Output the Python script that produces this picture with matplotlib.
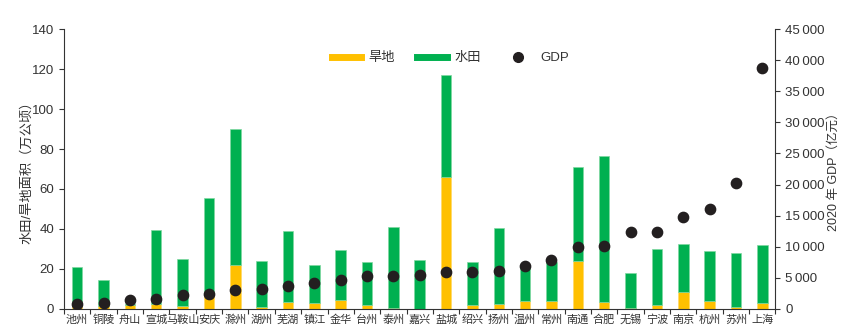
import matplotlib.pyplot as plt
import numpy as np
from matplotlib.lines import Line2D
from matplotlib.ticker import FuncFormatter, MultipleLocator

plt.rcParams['font.family'] = ['Liberation Sans', 'Noto Sans CJK SC', 'DejaVu Sans']

# 城市
cities = ['池州', '铜陵', '舟山', '宣城', '马鞍山', '安庆', '滁州', '湖州', '芜湖',
          '镇江', '金华', '台州', '泰州', '嘉兴', '盐城', '绍兴', '扬州', '温州',
          '常州', '南通', '合肥', '无锡', '宁波', '南京', '杭州', '苏州', '上海']
# 旱地 (万公顷)
dry = [1.5, 1.5, 2.0, 2.5, 1.7, 8.3, 21.8, 1.2, 3.7,
       2.8, 4.5, 2.0, 0.5, 0.2, 66.0, 2.0, 2.5, 4.2,
       4.0, 24.2, 3.7, 0.7, 2.2, 8.5, 4.0, 1.2, 3.2]
# 水田+旱地 总高度 (万公顷)
total = [21.0, 14.7, 2.3, 39.5, 24.8, 55.3, 90.0, 23.8, 39.0,
         22.0, 29.3, 23.5, 40.8, 24.7, 117.2, 23.5, 40.5, 20.3,
         23.7, 70.8, 76.3, 18.2, 29.8, 32.7, 28.8, 28.2, 32.0]
paddy = [t - d for t, d in zip(total, dry)]
# 2020 年 GDP (亿元)
gdp = [870, 1000, 1510, 1600, 2190, 2470, 3030, 3200, 3750,
       4220, 4700, 5260, 5310, 5510, 5950, 6000, 6050, 6870,
       7800, 10040, 10050, 12370, 12410, 14820, 16110, 20170, 38700]

YELLOW = '#FFC000'
GREEN = '#00B050'
DOT = '#231F20'
TXT = '#333333'

fig, ax = plt.subplots(figsize=(8.42, 3.34), dpi=100)
fig.subplots_adjust(left=0.076, right=0.921, top=0.913, bottom=0.075)

x = np.arange(len(cities))
w = 0.4
ax.bar(x, dry, width=w, color=YELLOW, edgecolor='#FFD966', linewidth=0.5)
ax.bar(x, paddy, width=w, bottom=dry, color=GREEN, edgecolor='#7FD8A0', linewidth=0.5)

ax.set_xlim(-0.5, len(cities) - 0.5)
ax.set_ylim(0, 140)
ax.yaxis.set_major_locator(MultipleLocator(20))
ax.set_xticks(x)
ax.set_xticklabels(cities, fontsize=8, color=TXT)
ax.set_xticks(np.arange(len(cities) + 1) - 0.5, minor=True)
ax.tick_params(axis='x', which='major', length=0, pad=4)
ax.tick_params(axis='x', which='minor', length=3.5, width=0.8, color=TXT, direction='out')
ax.tick_params(axis='y', labelsize=9.5, labelcolor=TXT, length=3.5, width=0.8, color=TXT)
ax.set_ylabel('水田/旱地面积（万公顷）', fontsize=9.5, color=TXT, labelpad=-1)

for s in ['top', 'right']:
    ax.spines[s].set_visible(False)
for s in ['left', 'bottom']:
    ax.spines[s].set_color(TXT)
    ax.spines[s].set_linewidth(0.8)

ax2 = ax.twinx()
ax2.scatter(x, gdp, s=55, color=DOT, zorder=5)
ax2.set_ylim(0, 45000)
ax2.yaxis.set_major_locator(MultipleLocator(5000))
ax2.yaxis.set_major_formatter(FuncFormatter(
    lambda v, p: f'{int(v):,}'.replace(',', '\u2009')))
ax2.tick_params(axis='y', labelsize=9.5, labelcolor=TXT, length=3.5, width=0.8, color=TXT)
ax2.set_ylabel('2020 年 GDP（亿元）', fontsize=9, color=TXT, labelpad=2)
for s in ['top', 'left', 'bottom']:
    ax2.spines[s].set_visible(False)
ax2.spines['right'].set_color(TXT)
ax2.spines['right'].set_linewidth(0.8)

handles = [Line2D([], [], color=YELLOW, lw=5),
           Line2D([], [], color=GREEN, lw=5),
           Line2D([], [], color=DOT, lw=0, marker='o', markersize=7)]
ax2.legend(handles, ['旱地', '水田', 'GDP'], loc='upper center',
           bbox_to_anchor=(0.543, 0.96), ncol=3, frameon=False, fontsize=9.5,
           handlelength=2.2, handletextpad=0.6, columnspacing=1.7, labelcolor=TXT)

plt.savefig('out.png', dpi=100)
